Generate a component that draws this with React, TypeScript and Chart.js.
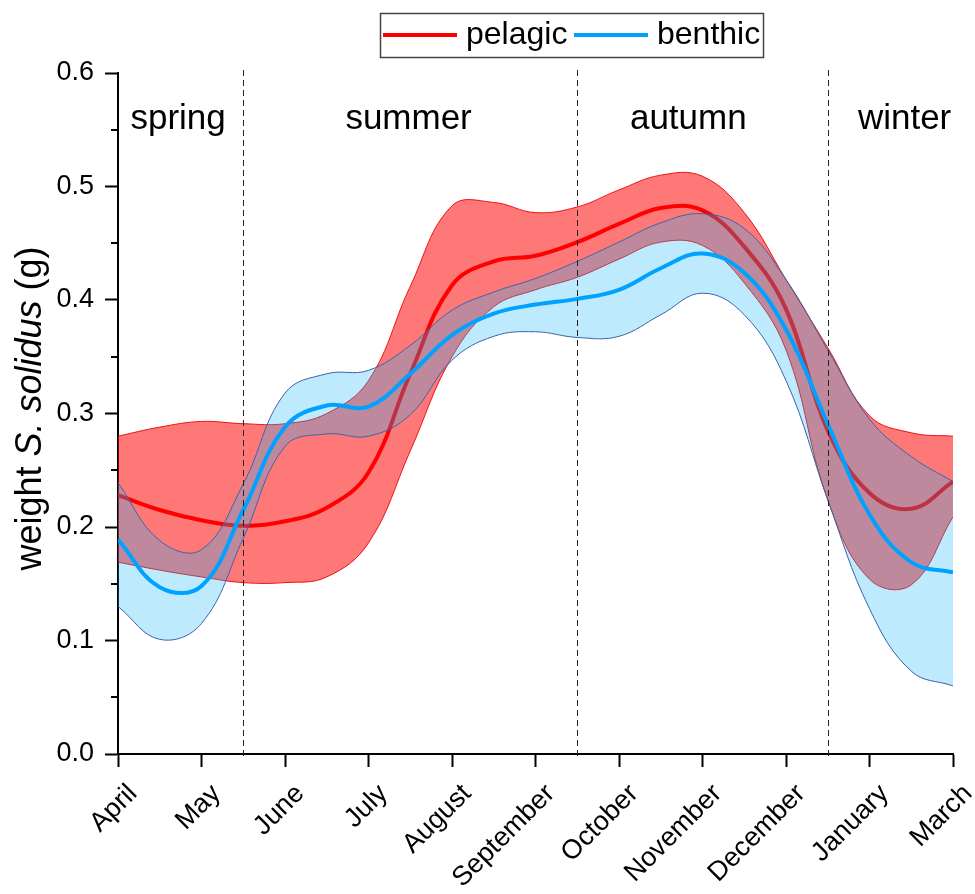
import React, { useEffect, useRef } from 'react';
import { Chart, registerables } from 'chart.js';

Chart.register(...registerables);

const MONTHS = ['April', 'May', 'June', 'July', 'August', 'September', 'October', 'November', 'December', 'January', 'March'];
const XS = [0, 0.5, 1, 1.5, 2, 2.5, 3, 3.5, 4, 4.5, 5, 5.5, 6, 6.5, 7, 7.5, 8, 8.5, 9, 9.5, 10];

const pelagicMean = [0.228, 0.215, 0.206, 0.201, 0.205, 0.217, 0.248, 0.335, 0.413, 0.434, 0.439, 0.451, 0.467, 0.481, 0.479, 0.447, 0.392, 0.285, 0.23, 0.216, 0.24];
const pelagicUpper = [0.28, 0.288, 0.293, 0.291, 0.291, 0.3, 0.329, 0.412, 0.483, 0.486, 0.477, 0.482, 0.497, 0.51, 0.509, 0.477, 0.418, 0.358, 0.298, 0.283, 0.28];
const pelagicLower = [0.169, 0.162, 0.156, 0.151, 0.151, 0.156, 0.186, 0.267, 0.35, 0.394, 0.409, 0.42, 0.436, 0.451, 0.448, 0.415, 0.356, 0.224, 0.154, 0.149, 0.209];
const benthicMean = [0.189, 0.147, 0.148, 0.215, 0.288, 0.307, 0.306, 0.335, 0.369, 0.388, 0.396, 0.401, 0.409, 0.428, 0.441, 0.424, 0.374, 0.291, 0.211, 0.169, 0.16];
const benthicUpper = [0.239, 0.188, 0.18, 0.238, 0.318, 0.335, 0.338, 0.36, 0.391, 0.407, 0.419, 0.434, 0.451, 0.468, 0.476, 0.463, 0.418, 0.356, 0.295, 0.262, 0.24];
const benthicLower = [0.13, 0.101, 0.115, 0.19, 0.271, 0.282, 0.28, 0.299, 0.347, 0.368, 0.372, 0.367, 0.368, 0.387, 0.406, 0.387, 0.329, 0.224, 0.128, 0.073, 0.06];

const Y_TICKS = [0, 0.1, 0.2, 0.3, 0.4, 0.5, 0.6];
const Y_MINOR = [0.05, 0.15, 0.25, 0.35, 0.45, 0.55];
const SEASON_BOUNDS = [1.5, 5.5, 8.5];
const SEASONS = ['spring', 'summer', 'autumn', 'winter'];
const SEASON_X = [0.72, 3.48, 6.83, 9.42];
const LEGEND_LABELS = ['pelagic', 'benthic'];

const RED = '#ff0000';
const BLUE = '#00a2ff';
const FONT = '"Liberation Sans", Arial, Helvetica, sans-serif';

const pts = (vals: number[]) => XS.map((x, i) => ({ x, y: vals[i] }));

const decorPlugin = {
  id: 'decor',
  afterDatasetsDraw(chart: any) {
    const { ctx, chartArea, scales } = chart;
    const xs = scales.x;
    ctx.save();
    ctx.strokeStyle = '#222';
    ctx.lineWidth = 1;
    ctx.setLineDash([6, 4]);
    SEASON_BOUNDS.forEach((b) => {
      const px = Math.round(xs.getPixelForValue(b)) + 0.5;
      ctx.beginPath();
      ctx.moveTo(px, chartArea.top - 3);
      ctx.lineTo(px, chartArea.bottom + 4);
      ctx.stroke();
    });
    ctx.setLineDash([]);
    ctx.fillStyle = '#000';
    ctx.font = `35px ${FONT}`;
    ctx.textAlign = 'center';
    ctx.textBaseline = 'alphabetic';
    SEASONS.forEach((s, i) => {
      ctx.fillText(s, xs.getPixelForValue(SEASON_X[i]), chartArea.top + 56);
    });
    ctx.restore();
  },
  afterDraw(chart: any) {
    const { ctx, chartArea, scales } = chart;
    const ys = scales.y;
    ctx.save();
    ctx.strokeStyle = '#000';
    ctx.lineWidth = 2;
    Y_MINOR.forEach((v) => {
      const py = Math.round(ys.getPixelForValue(v));
      ctx.beginPath();
      ctx.moveTo(chartArea.left - 7, py);
      ctx.lineTo(chartArea.left, py);
      ctx.stroke();
    });
    const parts = [
      { t: 'weight ', f: `36px ${FONT}` },
      { t: 'S. solidus', f: `italic 36px ${FONT}` },
      { t: ' (g)', f: `36px ${FONT}` },
    ];
    let total = 0;
    parts.forEach((p) => {
      ctx.font = p.f;
      total += ctx.measureText(p.t).width;
    });
    const cy = (chartArea.top + chartArea.bottom) / 2 - 5;
    ctx.translate(41, cy);
    ctx.rotate(-Math.PI / 2);
    ctx.fillStyle = '#000';
    ctx.textAlign = 'left';
    ctx.textBaseline = 'alphabetic';
    let x = -total / 2;
    parts.forEach((p) => {
      ctx.font = p.f;
      ctx.fillText(p.t, x, 0);
      x += ctx.measureText(p.t).width;
    });
    ctx.restore();

    ctx.save();
    ctx.strokeStyle = '#444';
    ctx.lineWidth = 1.5;
    ctx.strokeRect(380.5, 13.5, 383, 44);
    ctx.font = `32px ${FONT}`;
    ctx.fillStyle = '#000';
    ctx.textBaseline = 'alphabetic';
    ctx.textAlign = 'left';
    const colors = [RED, BLUE];
    const starts = [383, 574];
    LEGEND_LABELS.forEach((lab, i) => {
      ctx.strokeStyle = colors[i];
      ctx.lineWidth = 4;
      ctx.beginPath();
      ctx.moveTo(starts[i], 35);
      ctx.lineTo(starts[i] + 74, 35);
      ctx.stroke();
      ctx.fillText(lab, starts[i] + 83, 44);
    });
    ctx.restore();
  },
};

export default function App() {
  const ref = useRef<HTMLCanvasElement>(null);

  useEffect(() => {
    if (!ref.current) return;
    const line = { pointRadius: 0, pointHoverRadius: 0, tension: 0.4 };
    const chart = new Chart(ref.current, {
      type: 'line',
      data: {
        datasets: [
          {
            ...line,
            label: 'pelagic upper',
            data: pts(pelagicUpper),
            borderColor: 'rgba(235,0,0,0.9)',
            borderWidth: 1,
            backgroundColor: 'rgba(255,0,0,0.53)',
            fill: 1,
            order: 5,
          },
          {
            ...line,
            label: 'pelagic lower',
            data: pts(pelagicLower),
            borderColor: 'rgba(235,0,0,0.9)',
            borderWidth: 1,
            fill: false,
            order: 4,
          },
          {
            ...line,
            label: 'pelagic',
            data: pts(pelagicMean),
            borderColor: RED,
            borderWidth: 4,
            fill: false,
            order: 3,
          },
          {
            ...line,
            label: 'benthic upper',
            data: pts(benthicUpper),
            borderColor: '#3b63a6',
            borderWidth: 1,
            backgroundColor: 'rgba(22,180,247,0.28)',
            fill: 4,
            order: 2,
          },
          {
            ...line,
            label: 'benthic lower',
            data: pts(benthicLower),
            borderColor: '#3b63a6',
            borderWidth: 1,
            fill: false,
            order: 1,
          },
          {
            ...line,
            label: 'benthic',
            data: pts(benthicMean),
            borderColor: BLUE,
            borderWidth: 4,
            fill: false,
            order: 0,
          },
        ],
      },
      options: {
        animation: false,
        responsive: false,
        maintainAspectRatio: false,
        layout: { padding: { left: 0, top: 73, right: 22, bottom: 0 } },
        plugins: {
          legend: { display: false },
          tooltip: { enabled: false },
          title: { display: false },
        },
        scales: {
          x: {
            type: 'linear',
            min: 0,
            max: 10,
            afterFit: (s: any) => {
              s.height = 140;
              s.paddingLeft = 0;
              s.paddingRight = 0;
            },
            afterBuildTicks: (s: any) => {
              s.ticks = MONTHS.map((_, i) => ({ value: i }));
            },
            ticks: {
              autoSkip: false,
              maxRotation: 45,
              minRotation: 45,
              padding: 11,
              labelOffset: 15,
              color: '#000',
              font: { family: FONT, size: 27 },
              callback: (v: any) => MONTHS[Math.round(Number(v))] ?? '',
            },
            grid: {
              drawOnChartArea: false,
              drawTicks: true,
              tickLength: 13,
              tickWidth: 2,
              tickColor: '#000',
            },
            border: { display: true, color: '#000', width: 2 },
          },
          y: {
            type: 'linear',
            min: 0,
            max: 0.6,
            afterFit: (s: any) => {
              s.width = 118;
              s.paddingTop = 0;
              s.paddingBottom = 0;
            },
            afterBuildTicks: (s: any) => {
              s.ticks = Y_TICKS.map((v) => ({ value: v }));
            },
            ticks: {
              padding: 11,
              color: '#000',
              font: { family: FONT, size: 27 },
              callback: (v: any) => Number(v).toFixed(1),
            },
            grid: {
              drawOnChartArea: false,
              drawTicks: true,
              tickLength: 13,
              tickWidth: 2,
              tickColor: '#000',
            },
            border: { display: true, color: '#000', width: 2 },
          },
        },
      },
      plugins: [decorPlugin],
    });
    return () => chart.destroy();
  }, []);

  return (
    <div style={{ position: 'fixed', left: 0, top: 0, width: 975, height: 894, background: '#fff' }}>
      <canvas ref={ref} width={975} height={894} style={{ width: 975, height: 894, display: 'block' }} />
    </div>
  );
}
